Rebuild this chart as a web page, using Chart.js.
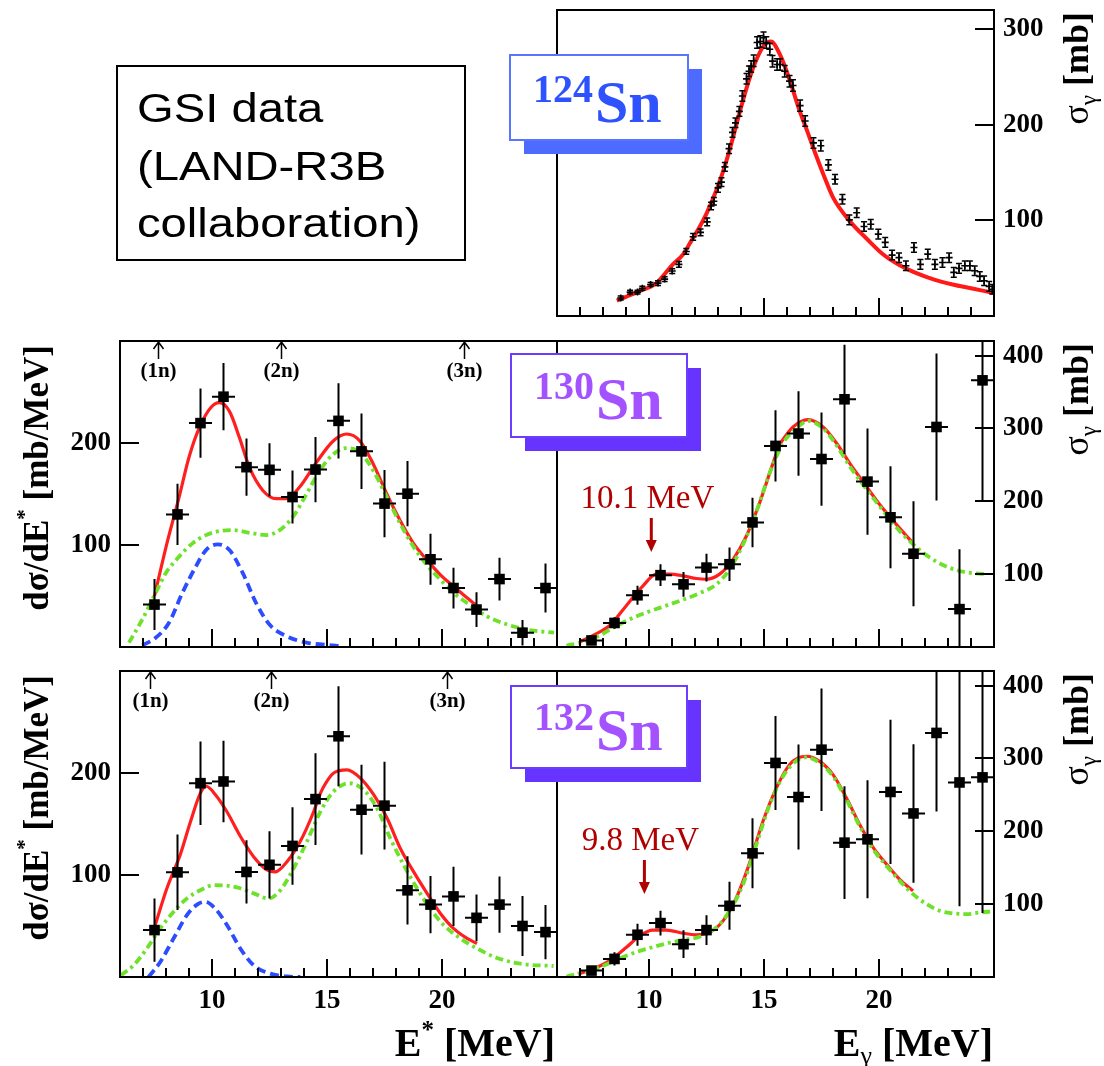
<!DOCTYPE html>
<html>
<head>
<meta charset="utf-8">
<title>Sn dipole strength</title>
<script src="https://cdn.jsdelivr.net/npm/chart.js@4.4.1/dist/chart.umd.min.js"></script>
<style>
  html, body { margin: 0; padding: 0; background: #fff; overflow: hidden; }
  #wrap { position: relative; width: 1104px; height: 1066px; }
  #wrap canvas { position: absolute; left: 0; top: 0; }
</style>
</head>
<body>
<div id="wrap"></div>
<script>
// ---------------- axis ranges and ticks ----------------
const energyMin = 6, energyMax = 25;
const energyMajorTicks = [10, 15, 20];
const energyMinorTicks = [7, 8, 9, 11, 12, 13, 14, 16, 17, 18, 19, 21, 22, 23, 24];
const sn124SigmaTicks = [100, 200, 300];
const excTicks = [100, 200];
const sigmaTicks = [100, 200, 300, 400];
const binHalfWidth = 0.5;

// ---------------- 124Sn photoabsorption (GSI) ----------------
const sn124E = [8.77, 9.18, 9.50, 9.71, 10.07, 10.39, 10.68, 11.01, 11.30, 11.62,
  11.92, 12.24, 12.53, 12.70, 12.82, 13.00, 13.15, 13.30, 13.48, 13.63,
  13.76, 13.93, 14.06, 14.24, 14.35, 14.44, 14.55, 14.70, 14.84, 14.98,
  15.10, 15.25, 15.37, 15.57, 15.70, 15.90, 16.11, 16.26, 16.57, 16.79,
  17.15, 17.47, 17.80, 18.09, 18.41, 18.71, 19.03, 19.35, 19.64, 19.97,
  20.27, 20.57, 20.87, 21.17, 21.52, 21.80, 22.12, 22.43, 22.76, 23.05,
  23.25, 23.48, 23.73, 23.95, 24.16, 24.38, 24.57, 24.79, 24.93];
const sn124Sigma = [18.8, 25, 25, 29, 33, 34.4, 38.6, 47, 54, 67.5,
  82.8, 87.4, 98.4, 115, 120, 134, 140, 156, 175, 192,
  202, 214, 230, 248, 256, 261, 267, 286, 287, 291,
  286, 279, 266.5, 263, 263, 256, 245.6, 241, 220, 204,
  181, 178, 158, 143, 122, 100.5, 108, 93.6, 96, 85.6,
  77, 63.7, 61, 52.5, 71.7, 54, 64.7, 54, 56, 61,
  45.6, 49.8, 52.5, 52.5, 47.3, 41.4, 36.8, 31, 28];
const sn124SigmaErr = [2, 2, 2, 2, 2, 2.5, 2.5, 2.5, 3, 3,
  3.5, 3.5, 4, 4, 4, 4.5, 4.5, 4.5, 5, 5,
  5, 5, 5.5, 5.5, 5.5, 6, 6, 6, 6, 6,
  6, 6, 6, 6, 6, 6, 6, 6, 6, 5.5,
  5.5, 5.5, 5.5, 5, 5, 5, 5, 5, 5, 5,
  5, 5, 5, 5, 5, 5, 5, 5, 5, 5,
  5, 5, 5, 5, 5, 5, 5, 5, 5];
const sn124FitE = [8.6, 9.0, 9.6, 10.3, 11.0, 11.5, 11.8, 12.2, 12.5, 13.0, 13.3, 13.6, 14.0,
  14.3, 14.6, 15.0, 15.3, 15.7, 16.1, 16.5, 16.9, 17.2, 17.6, 18.0, 18.7, 19.5, 20.2,
  20.9, 21.6, 22.4, 23.2, 24.0, 25.0];
const sn124Fit = [16, 20, 26, 34, 53, 65, 77, 93, 107, 136, 157, 182, 218,
  243, 264, 283, 287, 273, 248, 218, 192, 172, 147, 124, 100, 80, 64,
  53, 45, 38, 33, 29, 24];

// ---------------- 1 MeV bins shared by the 130Sn / 132Sn spectra ----------------
const binCentres = [7.5, 8.5, 9.5, 10.5, 11.5, 12.5, 13.5, 14.5, 15.5, 16.5,
  17.5, 18.5, 19.5, 20.5, 21.5, 22.5, 23.5, 24.5];

// ---------------- 130Sn ----------------
const sn130Exc = [41.6, 130, 219.5, 245.4, 176.3, 173.7, 147, 174, 221.7, 191.8,
  140.6, 150.3, 86, 57.8, 36.7, 66.6, 14, 57.8];
const sn130ExcErr = [25, 30, 34, 33, 28, 26, 26, 32, 37, 37, 33, 32, 25, 20, 17, 21, 12.5, 24];
const sn130ExcFitE = [7.5, 8.0, 8.57, 9.0, 9.45, 9.96, 10.32, 10.76, 11.19, 11.63,
  12.21, 12.79, 13.23, 13.81, 14.54, 15.27, 15.85, 16.43, 17.01, 17.6,
  18.18, 18.76, 19.34, 19.93, 20.51, 21.1, 21.45];
const sn130ExcFit = [50, 98, 147, 186, 215, 235, 239.5, 231, 205.5, 176,
  153.5, 145.5, 145.5, 156.8, 181, 202, 208.8, 202, 179.5, 150,
  124, 101.6, 85.4, 70.8, 59.4, 48, 41.6];
const sn130ExcGdrE = [6.39, 6.97, 7.48, 7.99, 8.57, 9.15, 9.74, 10.32, 10.9, 11.63,
  12.36, 12.94, 13.52, 14.11, 14.69, 15.27, 15.85, 16.43, 17.01, 17.6,
  18.18, 18.76, 19.34, 19.93, 20.51, 21.1, 21.96, 22.84, 23.71, 24.87];
const sn130ExcGdr = [4.3, 27, 49.7, 72.4, 88.6, 101.6, 109.7, 113.6, 114.6, 112,
  109.7, 114.6, 127.6, 150, 173, 189, 195, 191, 173, 147,
  121, 98.4, 80.5, 66, 53, 43, 30, 22, 17, 14];
const sn130ExcPdrE = [6.97, 7.55, 8.13, 8.71, 9.3, 9.74, 10.25, 10.76, 11.34, 11.92, 12.5, 13.23, 14.11, 15.27, 15.56];
const sn130ExcPdr = [1.6, 9, 23.8, 53, 79, 95, 100.7, 95, 72.4, 43, 22, 10.7, 4.3, 1.6, 1];
const sn130Sigma = [9, 33, 71, 98.6, 86, 109, 113.6, 171, 276, 293, 258, 340, 227, 178, 128, 302, 52, 366];
const sn130SigmaErr = [3, 8, 13, 15, 17, 19, 23, 34, 49, 58, 64, 75, 73, 70, 72, 101, 82, 166];
const sn130SigmaFitE = [6.99, 7.57, 8.29, 9.02, 9.74, 10.32, 10.9, 11.48, 12.06, 12.5,
  13.07, 13.65, 14.23, 14.81, 15.39, 15.68, 15.97, 16.26, 16.91, 17.57,
  18.15, 18.73, 19.3, 20.03, 20.76, 21.41];
const sn130SigmaFit = [7, 16, 29.5, 57, 84, 100, 100, 97.7, 94, 93,
  100, 120, 152, 198, 252, 277, 291, 302, 312, 302,
  280, 252, 227, 195.5, 168, 145];
const sn130SigmaGdrE = [6.41, 7.13, 7.86, 8.58, 9.3, 10.03, 10.76, 11.48, 12.2, 12.93,
  13.51, 14.09, 14.67, 15.25, 15.83, 16.48, 16.91, 17.57, 18.15, 18.73,
  19.3, 20.03, 20.76, 21.48, 22.2, 22.93, 23.7, 24.67];
const sn130SigmaGdr = [2, 7, 16, 29, 40, 49, 57, 65, 74, 86,
  107, 141, 186, 239, 280, 302, 310.5, 300, 277, 248,
  223, 193, 164, 141, 123, 110.5, 103, 100];
const sn130Thresholds = [7.66, 13.01, 20.97];
const sn130PdrPeak = 10.1;

// ---------------- 132Sn ----------------
const sn132Exc = [46, 102.6, 190, 191.7, 103, 110, 128.5, 174.4, 236, 164,
  168, 85, 71, 79, 58, 71, 50, 44];
const sn132ExcErr = [31, 37, 41, 40, 31, 33, 38, 45, 49, 44, 43, 33.5, 28, 29, 23, 27.5, 29.5, 26.5];
const sn132ExcFitE = [7.53, 8.04, 8.62, 9.06, 9.49, 9.75, 10.14, 10.65, 11.23, 11.81,
  12.39, 12.75, 13.26, 13.84, 14.42, 14.71, 15.0, 15.29, 15.87, 16.45,
  17.03, 17.61, 18.19, 18.77, 19.35, 19.93, 20.5, 21.09, 21.52];
const sn132ExcFit = [51, 87, 120, 152, 180, 187, 179, 162, 138, 118,
  105, 103, 113, 133, 162, 180, 192, 200, 203, 195,
  178.7, 155.8, 126, 103, 82, 62.3, 47.6, 37.8, 32.8];
const sn132ExcGdrE = [6.04, 6.59, 7.17, 7.75, 8.33, 8.91, 9.49, 10.07, 10.65, 11.23,
  11.81, 12.46, 12.97, 13.55, 14.13, 14.71, 15.29, 15.94, 16.59, 17.17,
  17.75, 18.33, 18.91, 19.49, 20.07, 20.8, 21.52, 22.39, 23.4, 24.85];
const sn132ExcGdr = [1.7, 11.5, 28, 47.6, 64, 77, 85, 90, 89.5, 87,
  82, 77, 85, 106.6, 133, 162, 182, 190, 183.6, 165.6,
  136, 110, 87, 67, 51, 37.8, 28, 18.7, 13, 10.8];
const sn132ExcPdrE = [7.24, 7.75, 8.33, 8.91, 9.35, 9.71, 10.14, 10.65, 11.23, 11.81, 12.53, 13.26, 13.84];
const sn132ExcPdr = [0, 14.7, 37.8, 60.7, 71, 73.7, 67, 51, 28, 11.5, 3.3, 0.5, 0];
const sn132Sigma = [8.8, 24.8, 58, 74, 45, 64.4, 97.7, 169.8, 293.8, 247, 312, 184.4, 189, 254, 224.5, 335, 267, 274];
const sn132SigmaErr = [3, 9, 15, 17, 19, 20.5, 33, 48, 64.5, 72, 84, 77.5, 81, 99, 95, 108, 170, 186];
const sn132SigmaFitE = [6.91, 7.57, 8.29, 9.02, 9.6, 10.17, 10.76, 11.48, 12.06, 12.64,
  13.22, 13.8, 14.38, 14.96, 15.54, 16.11, 16.48, 16.84, 17.42, 18.0,
  18.58, 19.16, 19.75, 20.33, 20.9, 21.48];
const sn132SigmaFit = [4, 11, 22.5, 40.8, 56.6, 64.4, 64.4, 60, 58, 61.3,
  77, 109, 157, 214, 259.6, 291.5, 300.7, 303, 296, 277.8,
  246, 209.4, 177.6, 154.7, 134, 118.2];
const sn132SigmaGdrE = [6.41, 7.14, 7.86, 8.58, 9.3, 10.03, 10.76, 11.48, 12.2, 12.93,
  13.51, 14.09, 14.67, 15.25, 15.83, 16.48, 16.84, 17.42, 18.0, 18.58,
  19.16, 19.75, 20.33, 20.9, 21.48, 22.07, 22.65, 23.23, 23.81, 24.39, 24.97];
const sn132SigmaGdr = [0.5, 6.6, 13.4, 23.4, 32.6, 39.8, 46, 50.8, 55.3, 68,
  90.8, 127.4, 182, 236.8, 275.5, 298.4, 301.5, 293.8, 275.5, 243.6,
  207, 175, 152.4, 131.9, 113.7, 100, 90.8, 87.3, 86.3, 88.6, 90];
const sn132Thresholds = [7.29, 12.57, 20.2];
const sn132PdrPeak = 9.8;

const thresholdLabels = ['(1n)', '(2n)', '(3n)'];
const infoLines = ['GSI data', '(LAND-R3B', 'collaboration)'];

// ---------------- page layout ----------------
const W = 1104, H = 1066;
const SERIF = '"Liberation Serif", "DejaVu Serif", serif';
const frames = {
  sn124:      { l: 557, t: 10,  r: 994, b: 316 },
  sn130Exc:   { l: 120, t: 341, r: 557, b: 647 },
  sn130Sigma: { l: 557, t: 341, r: 994, b: 647 },
  sn132Exc:   { l: 120, t: 671, r: 557, b: 977 },
  sn132Sigma: { l: 557, t: 671, r: 994, b: 977 }
};
const blueBox = { text: '#2f52ff', border: '#5775ff', shadow: '#4d6bff' };
const violetBox = { text: '#a452ff', border: '#6a3dff', shadow: '#6633ff' };

// ---------------- dataset helpers ----------------
const zip = (xs, ys) => xs.map((x, i) => ({ x, y: ys[i] }));
const binnedPoints = (ys) => ({
  data: zip(binCentres, ys), showLine: false, pointStyle: 'rect', pointRadius: 7.5,
  pointBackgroundColor: '#000', pointBorderWidth: 0
});
const curve = (xs, ys, style) => Object.assign({
  data: zip(xs, ys), showLine: true, pointRadius: 0, fill: false,
  cubicInterpolationMode: 'monotone', borderCapStyle: 'butt'
}, style);
const redFit = { borderColor: '#ff1f1f', borderWidth: 3.2 };
const greenGdr = { borderColor: '#6ee22a', borderWidth: 3.8, borderDash: [8, 4, 3, 4] };
const bluePdr = { borderColor: '#2b4cff', borderWidth: 3.8, borderDash: [9, 5] };

// ---------------- text helpers ----------------
function drawRich(ctx, parts, x, y, rotate, align, color) {
  ctx.save();
  ctx.translate(x, y);
  if (rotate) ctx.rotate(-Math.PI / 2);
  let total = 0;
  parts.forEach(p => { ctx.font = p.font; p.w = ctx.measureText(p.t).width; total += p.w; });
  let cx = align === 'right' ? -total : align === 'center' ? -total / 2 : 0;
  ctx.fillStyle = color || '#000';
  ctx.textAlign = 'left';
  ctx.textBaseline = 'alphabetic';
  parts.forEach(p => { ctx.font = p.font; ctx.fillText(p.t, cx, p.dy || 0); cx += p.w; });
  ctx.restore();
}

function drawSigmaTitle(ctx, chart) {
  drawRich(ctx, [
    { t: 'σ', font: '36px ' + SERIF },
    { t: 'γ', font: '23px ' + SERIF, dy: 8 },
    { t: ' [mb]', font: 'bold 36px ' + SERIF }
  ], 1088, chart.chartArea.top + 2, true, 'right');
}

function drawExcTitle(ctx, chart) {
  drawRich(ctx, [
    { t: 'dσ/dE', font: 'bold 35px ' + SERIF },
    { t: '*', font: 'bold 21px ' + SERIF, dy: -17 },
    { t: ' [mb/MeV]', font: 'bold 35px ' + SERIF }
  ], 48, chart.chartArea.top + 4, true, 'right');
}

function drawIsotopeBox(ctx, box, mass, colors) {
  ctx.save();
  ctx.fillStyle = colors.shadow;
  ctx.fillRect(box.x + 14, box.y + 14, box.w, box.h);
  ctx.fillStyle = '#fff';
  ctx.fillRect(box.x, box.y, box.w, box.h);
  ctx.strokeStyle = colors.border;
  ctx.lineWidth = 2;
  ctx.strokeRect(box.x, box.y, box.w, box.h);
  ctx.fillStyle = colors.text;
  ctx.textAlign = 'left';
  ctx.textBaseline = 'alphabetic';
  ctx.font = 'bold 40px ' + SERIF;
  ctx.fillText(mass, box.x + 23, box.y + box.h - 38);
  const mw = ctx.measureText(mass).width;
  ctx.font = 'bold 60px ' + SERIF;
  ctx.fillText('Sn', box.x + 25 + mw, box.y + box.h - 18);
  ctx.restore();
}

function drawThresholds(ctx, chart, energies) {
  const a = chart.chartArea, xs = chart.scales.x;
  ctx.save();
  ctx.strokeStyle = '#000';
  ctx.fillStyle = '#000';
  ctx.lineWidth = 1.5;
  ctx.font = 'bold 21px ' + SERIF;
  ctx.textAlign = 'center';
  ctx.textBaseline = 'middle';
  energies.forEach((e, i) => {
    const px = Math.round(xs.getPixelForValue(e)) + 0.5;
    ctx.beginPath();
    ctx.moveTo(px, a.top + 18);
    ctx.lineTo(px, a.top + 1);
    ctx.moveTo(px - 5, a.top + 8);
    ctx.lineTo(px, a.top + 1);
    ctx.lineTo(px + 5, a.top + 8);
    ctx.stroke();
    ctx.fillText(thresholdLabels[i], px, a.top + 31);
  });
  ctx.restore();
}

function drawPeakMarker(ctx, chart, energy, dyText, dyTop, dyTip) {
  const a = chart.chartArea;
  const px = chart.scales.x.getPixelForValue(energy);
  const colour = '#b00000';
  ctx.save();
  ctx.fillStyle = colour;
  ctx.strokeStyle = colour;
  ctx.font = '33px ' + SERIF;
  ctx.textAlign = 'center';
  ctx.textBaseline = 'alphabetic';
  ctx.fillText(energy.toFixed(1) + ' MeV', px - 4, a.top + dyText);
  ctx.lineWidth = 3;
  ctx.beginPath();
  ctx.moveTo(px, a.top + dyTop);
  ctx.lineTo(px, a.top + dyTip - 10);
  ctx.stroke();
  ctx.beginPath();
  ctx.moveTo(px - 5.5, a.top + dyTip - 12);
  ctx.lineTo(px + 5.5, a.top + dyTip - 12);
  ctx.lineTo(px, a.top + dyTip);
  ctx.closePath();
  ctx.fill();
  ctx.restore();
}

function drawEnergyLabels(ctx, chart) {
  const a = chart.chartArea, xs = chart.scales.x;
  ctx.save();
  ctx.fillStyle = '#000';
  ctx.font = 'bold 27px ' + SERIF;
  ctx.textAlign = 'center';
  ctx.textBaseline = 'top';
  energyMajorTicks.forEach(v => ctx.fillText(String(v), xs.getPixelForValue(v), a.bottom + 11));
  ctx.restore();
}

// ---------------- panel plugin: error bars, frame, inward ticks ----------------
function panelPlugin(spec) {
  return {
    id: 'panelDecor',
    afterDatasetsDraw(chart) {
      const { ctx, chartArea: a } = chart;
      const xs = chart.scales.x, ys = chart.scales.y;
      const eb = spec.errors;
      ctx.save();
      ctx.beginPath();
      ctx.rect(a.left, a.top, a.right - a.left, a.bottom - a.top);
      ctx.clip();
      ctx.strokeStyle = '#000';
      ctx.lineWidth = eb.lineWidth;
      eb.x.forEach((xv, i) => {
        const px = xs.getPixelForValue(xv);
        const py = ys.getPixelForValue(eb.y[i]);
        const lo = ys.getPixelForValue(eb.y[i] - eb.err[i]);
        const hi = ys.getPixelForValue(eb.y[i] + eb.err[i]);
        ctx.beginPath();
        ctx.moveTo(px, lo);
        ctx.lineTo(px, hi);
        if (eb.halfWidth) {
          ctx.moveTo(xs.getPixelForValue(xv - eb.halfWidth), py);
          ctx.lineTo(xs.getPixelForValue(xv + eb.halfWidth), py);
        }
        if (eb.cap) {
          ctx.moveTo(px - eb.cap, lo); ctx.lineTo(px + eb.cap, lo);
          ctx.moveTo(px - eb.cap, hi); ctx.lineTo(px + eb.cap, hi);
        }
        ctx.stroke();
      });
      ctx.restore();
    },
    afterDraw(chart) {
      const { ctx, chartArea: a } = chart;
      const xs = chart.scales.x, ys = chart.scales.y;
      ctx.save();
      ctx.strokeStyle = '#000';
      ctx.lineWidth = 2;
      ctx.strokeRect(a.left, a.top, a.right - a.left, a.bottom - a.top);
      ctx.beginPath();
      energyMinorTicks.forEach(v => {
        const p = Math.round(xs.getPixelForValue(v));
        ctx.moveTo(p, a.bottom); ctx.lineTo(p, a.bottom - 9);
      });
      energyMajorTicks.forEach(v => {
        const p = Math.round(xs.getPixelForValue(v));
        ctx.moveTo(p, a.bottom); ctx.lineTo(p, a.bottom - 18);
      });
      spec.yTicks.forEach(v => {
        const p = Math.round(ys.getPixelForValue(v));
        if (spec.ySide === 'left') { ctx.moveTo(a.left, p); ctx.lineTo(a.left + 19, p); }
        else { ctx.moveTo(a.right, p); ctx.lineTo(a.right - 19, p); }
      });
      ctx.stroke();
      ctx.fillStyle = '#000';
      ctx.font = 'bold 27px ' + SERIF;
      ctx.textBaseline = 'middle';
      ctx.textAlign = spec.ySide === 'left' ? 'right' : 'left';
      spec.yTicks.forEach(v => {
        ctx.fillText(String(v), spec.ySide === 'left' ? a.left - 9 : a.right + 9, ys.getPixelForValue(v));
      });
      ctx.restore();
      if (spec.decorate) spec.decorate(ctx, chart);
    }
  };
}

function buildPanel(frame, yMax, datasets, spec) {
  const canvas = document.createElement('canvas');
  canvas.width = W; canvas.height = H;
  canvas.style.width = W + 'px'; canvas.style.height = H + 'px';
  document.getElementById('wrap').appendChild(canvas);
  return new Chart(canvas, {
    type: 'scatter',
    data: { datasets },
    options: {
      responsive: false,
      animation: false,
      devicePixelRatio: 1,
      events: [],
      layout: {
        autoPadding: false,
        padding: { left: frame.l, top: frame.t, right: W - frame.r, bottom: H - frame.b }
      },
      plugins: { legend: { display: false }, tooltip: { enabled: false } },
      scales: {
        x: { type: 'linear', min: energyMin, max: energyMax, display: false },
        y: { type: 'linear', min: 0, max: yMax, display: false }
      }
    },
    plugins: [panelPlugin(spec)]
  });
}

// ---------------- 124Sn panel ----------------
buildPanel(frames.sn124, 320, [
  { data: zip(sn124E, sn124Sigma), showLine: false, pointStyle: 'cross', pointRadius: 3.5,
    pointBorderColor: '#000', pointBorderWidth: 1.6 },
  curve(sn124FitE, sn124Fit, { borderColor: '#ff1a1a', borderWidth: 4 })
], {
  ySide: 'right', yTicks: sn124SigmaTicks,
  errors: { x: sn124E, y: sn124Sigma, err: sn124SigmaErr, cap: 3, lineWidth: 1.5 },
  decorate(ctx, chart) {
    ctx.save();
    ctx.strokeStyle = '#000';
    ctx.lineWidth = 2;
    ctx.strokeRect(117, 66, 348, 194);
    ctx.fillStyle = '#000';
    ctx.font = '40px "Liberation Sans", Arial, sans-serif';
    ctx.textAlign = 'left';
    ctx.textBaseline = 'alphabetic';
    infoLines.forEach((ln, i) => {
      ctx.save();
      ctx.translate(137, 122 + i * 57.5);
      ctx.scale(1.18, 1);
      ctx.fillText(ln, 0, 0);
      ctx.restore();
    });
    ctx.restore();
    drawIsotopeBox(ctx, { x: 510, y: 55, w: 178, h: 85 }, '124', blueBox);
    drawSigmaTitle(ctx, chart);
  }
});

// ---------------- 130Sn panels ----------------
buildPanel(frames.sn130Exc, 300, [
  binnedPoints(sn130Exc),
  curve(sn130ExcGdrE, sn130ExcGdr, greenGdr),
  curve(sn130ExcPdrE, sn130ExcPdr, bluePdr),
  curve(sn130ExcFitE, sn130ExcFit, redFit)
], {
  ySide: 'left', yTicks: excTicks,
  errors: { x: binCentres, y: sn130Exc, err: sn130ExcErr, halfWidth: binHalfWidth, lineWidth: 2 },
  decorate(ctx, chart) {
    drawThresholds(ctx, chart, sn130Thresholds);
    drawExcTitle(ctx, chart);
  }
});

buildPanel(frames.sn130Sigma, 420, [
  binnedPoints(sn130Sigma),
  curve(sn130SigmaGdrE, sn130SigmaGdr, greenGdr),
  curve(sn130SigmaFitE, sn130SigmaFit, redFit)
], {
  ySide: 'right', yTicks: sigmaTicks,
  errors: { x: binCentres, y: sn130Sigma, err: sn130SigmaErr, halfWidth: binHalfWidth, lineWidth: 2 },
  decorate(ctx, chart) {
    drawIsotopeBox(ctx, { x: 511, y: 354, w: 176, h: 83 }, '130', violetBox);
    drawPeakMarker(ctx, chart, sn130PdrPeak, 167, 177, 211);
    drawSigmaTitle(ctx, chart);
  }
});

// ---------------- 132Sn panels ----------------
buildPanel(frames.sn132Exc, 300, [
  binnedPoints(sn132Exc),
  curve(sn132ExcGdrE, sn132ExcGdr, greenGdr),
  curve(sn132ExcPdrE, sn132ExcPdr, bluePdr),
  curve(sn132ExcFitE, sn132ExcFit, redFit)
], {
  ySide: 'left', yTicks: excTicks,
  errors: { x: binCentres, y: sn132Exc, err: sn132ExcErr, halfWidth: binHalfWidth, lineWidth: 2 },
  decorate(ctx, chart) {
    drawThresholds(ctx, chart, sn132Thresholds);
    drawExcTitle(ctx, chart);
    drawEnergyLabels(ctx, chart);
    drawRich(ctx, [
      { t: 'E', font: 'bold 40px ' + SERIF },
      { t: '*', font: 'bold 25px ' + SERIF, dy: -18 },
      { t: ' [MeV]', font: 'bold 40px ' + SERIF }
    ], 555, 1056, false, 'right');
  }
});

buildPanel(frames.sn132Sigma, 420, [
  binnedPoints(sn132Sigma),
  curve(sn132SigmaGdrE, sn132SigmaGdr, greenGdr),
  curve(sn132SigmaFitE, sn132SigmaFit, redFit)
], {
  ySide: 'right', yTicks: sigmaTicks,
  errors: { x: binCentres, y: sn132Sigma, err: sn132SigmaErr, halfWidth: binHalfWidth, lineWidth: 2 },
  decorate(ctx, chart) {
    drawIsotopeBox(ctx, { x: 511, y: 686, w: 176, h: 82 }, '132', violetBox);
    drawPeakMarker(ctx, chart, sn132PdrPeak, 179, 189, 223);
    drawSigmaTitle(ctx, chart);
    drawEnergyLabels(ctx, chart);
    drawRich(ctx, [
      { t: 'E', font: 'bold 40px ' + SERIF },
      { t: 'γ', font: '26px ' + SERIF, dy: 8 },
      { t: ' [MeV]', font: 'bold 40px ' + SERIF }
    ], 993, 1056, false, 'right');
  }
});
</script>
</body>
</html>
